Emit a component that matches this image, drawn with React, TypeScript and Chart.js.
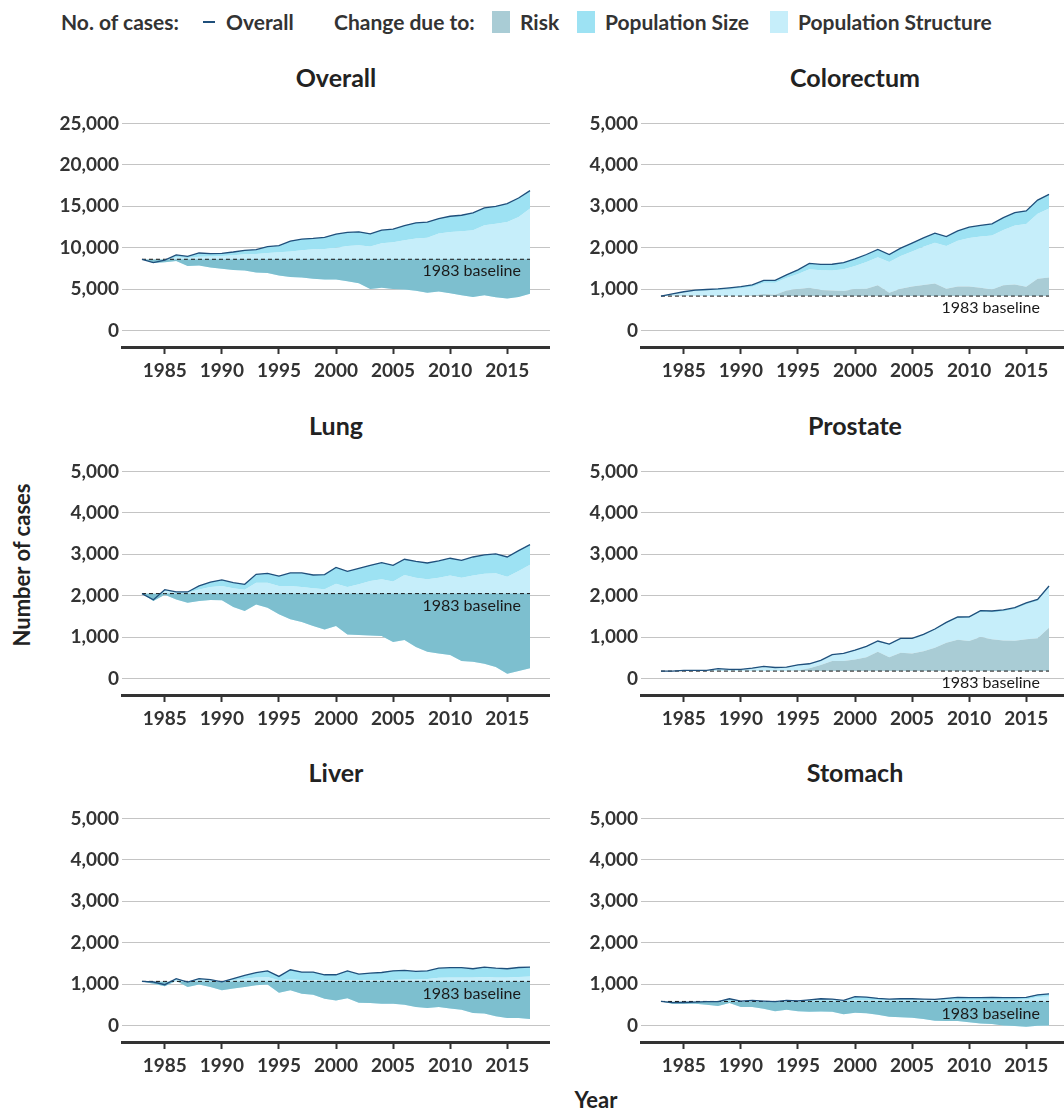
import React, { useEffect, useRef } from "react";
import { Chart, registerables } from "chart.js";

Chart.register(...registerables);

// ---------- data ----------
const years = [
  1983, 1984, 1985, 1986, 1987, 1988, 1989, 1990, 1991, 1992, 1993, 1994,
  1995, 1996, 1997, 1998, 1999, 2000, 2001, 2002, 2003, 2004, 2005, 2006,
  2007, 2008, 2009, 2010, 2011, 2012, 2013, 2014, 2015, 2016, 2017,
];
const xTickValues = [1985, 1990, 1995, 2000, 2005, 2010, 2015];
const yTicksOverall = [0, 5000, 10000, 15000, 20000, 25000];
const yTicksSite = [0, 1000, 2000, 3000, 4000, 5000];

// Overall
const overallTotal = [8600, 8200, 8500, 9120, 8960, 9360, 9280, 9320, 9480, 9680, 9760, 10120, 10240, 10800, 11040, 11120, 11240, 11640, 11840, 11920, 11680, 12120, 12240, 12680, 13000, 13080, 13520, 13800, 13920, 14200, 14800, 15000, 15320, 16000, 16900];
const overallStructure = [8600, 8250, 8500, 8850, 8750, 8900, 8950, 9000, 9100, 9200, 9250, 9350, 9450, 9550, 9700, 9800, 9850, 10000, 10200, 10300, 10150, 10550, 10650, 10900, 11100, 11200, 11700, 11900, 12000, 12100, 12700, 12900, 13100, 13700, 14750];
const overallRisk = [8600, 8150, 8250, 8400, 7800, 7850, 7600, 7450, 7300, 7250, 7000, 6950, 6650, 6450, 6400, 6250, 6150, 6150, 5950, 5700, 5000, 5150, 5000, 4950, 4800, 4550, 4700, 4500, 4250, 4050, 4250, 4000, 3850, 4050, 4450];

// Colorectum
const colorectumTotal = [830, 885, 935, 975, 990, 1005, 1030, 1060, 1100, 1210, 1210, 1345, 1465, 1620, 1595, 1600, 1640, 1730, 1835, 1960, 1835, 1990, 2110, 2235, 2350, 2270, 2405, 2495, 2540, 2575, 2725, 2845, 2890, 3150, 3290];
const colorectumStructure = [830, 875, 920, 955, 965, 975, 995, 1020, 1055, 1150, 1150, 1265, 1365, 1480, 1455, 1450, 1480, 1560, 1655, 1770, 1655, 1800, 1910, 2025, 2120, 2040, 2165, 2235, 2270, 2295, 2425, 2535, 2570, 2820, 2950];
const colorectumRisk = [830, 840, 845, 840, 835, 830, 830, 835, 845, 880, 860, 965, 1000, 1030, 980, 965, 955, 1000, 1010, 1090, 910, 1010, 1065, 1100, 1135, 1010, 1065, 1065, 1030, 990, 1090, 1110, 1055, 1250, 1280];

// Lung
const lungTotal = [2050, 1900, 2145, 2090, 2090, 2235, 2330, 2380, 2315, 2275, 2515, 2540, 2475, 2550, 2550, 2500, 2510, 2685, 2590, 2660, 2735, 2800, 2735, 2880, 2830, 2790, 2840, 2905, 2855, 2935, 2985, 3010, 2935, 3090, 3235];
const lungStructure = [2050, 1900, 2120, 2070, 2070, 2150, 2210, 2235, 2180, 2145, 2315, 2315, 2235, 2235, 2210, 2180, 2155, 2290, 2210, 2275, 2355, 2395, 2340, 2500, 2435, 2395, 2435, 2490, 2435, 2490, 2530, 2540, 2460, 2595, 2750];
const lungRisk = [2050, 1870, 2020, 1910, 1830, 1870, 1895, 1890, 1725, 1630, 1790, 1710, 1550, 1430, 1365, 1265, 1185, 1265, 1065, 1050, 1040, 1025, 880, 930, 760, 645, 605, 565, 420, 405, 355, 275, 115, 180, 245];

// Prostate
const prostateTotal = [178, 178, 195, 195, 195, 235, 220, 220, 250, 290, 265, 275, 330, 355, 435, 575, 605, 685, 775, 905, 830, 970, 970, 1065, 1195, 1355, 1485, 1490, 1640, 1630, 1655, 1710, 1825, 1910, 2235];
const prostateStructure = [178, 178, 195, 195, 195, 230, 215, 215, 245, 285, 260, 270, 320, 345, 425, 560, 590, 670, 755, 885, 810, 950, 950, 1040, 1170, 1325, 1455, 1460, 1605, 1595, 1620, 1670, 1785, 1870, 2215];
const prostateRisk = [178, 178, 178, 178, 178, 178, 178, 178, 178, 178, 178, 178, 195, 245, 325, 420, 420, 460, 515, 645, 510, 620, 600, 660, 740, 865, 935, 905, 1000, 945, 920, 910, 945, 970, 1225];

// Liver
const liverTotal = [1065, 1050, 985, 1130, 1050, 1130, 1105, 1055, 1130, 1210, 1275, 1320, 1185, 1345, 1290, 1290, 1225, 1225, 1320, 1240, 1265, 1280, 1320, 1330, 1305, 1320, 1385, 1395, 1395, 1370, 1410, 1385, 1370, 1400, 1410];
const liverStructure = [1065, 1040, 980, 1100, 1040, 1100, 1080, 1050, 1090, 1130, 1160, 1170, 1090, 1110, 1100, 1100, 1090, 1090, 1100, 1090, 1090, 1100, 1100, 1110, 1110, 1120, 1150, 1160, 1160, 1160, 1170, 1160, 1160, 1170, 1180];
const liverRisk = [1065, 1010, 945, 1075, 930, 990, 930, 850, 890, 930, 970, 990, 790, 850, 765, 740, 645, 605, 660, 550, 540, 525, 525, 500, 445, 420, 445, 410, 380, 300, 290, 225, 180, 180, 155];

// Stomach
const stomachTotal = [580, 550, 555, 565, 575, 575, 645, 590, 605, 590, 575, 605, 595, 620, 645, 635, 605, 695, 685, 655, 635, 645, 645, 635, 630, 655, 680, 670, 670, 680, 670, 670, 680, 740, 765];
const stomachStructure = [580, 550, 555, 560, 565, 565, 590, 580, 585, 580, 570, 585, 585, 590, 595, 595, 590, 600, 600, 600, 600, 600, 600, 600, 600, 605, 610, 610, 610, 615, 615, 620, 630, 690, 700];
const stomachRisk = [580, 525, 525, 525, 500, 470, 540, 445, 445, 405, 345, 380, 345, 330, 340, 330, 270, 305, 295, 260, 210, 200, 185, 155, 115, 105, 105, 75, 50, 35, 0, -15, -30, -10, 0];

// ---------- style ----------
const FONT = "Lato, 'Noto Sans', sans-serif";
const C_STRUCT = "#c6eefa";
const C_SIZE = "#9de2f3";
const C_RISK = "#a9ccd5";
const C_RISK_NEG = "#7dbfcf";
const C_LINE = "#1f4f7b";
const C_TEXT = "#333333";
const C_GRID = "#c4c4c4";

type PanelProps = {
  title: string;
  total: number[];
  structure: number[];
  risk: number[];
  yTicks: number[];
  left: number;
  top: number;
};

const CANVAS_W = 510;
const CANVAS_H = 291;
const Y_AXIS_W = 82;
const PAD_TOP = 11;
const X_AXIS_H = 40;

function Panel({ title, total, structure, risk, yTicks, left, top }: PanelProps) {
  const ref = useRef<HTMLCanvasElement | null>(null);

  useEffect(() => {
    if (!ref.current) return;
    const base = total[0];
    const pts = (arr: number[]) => years.map((yr, i) => ({ x: yr, y: arr[i] }));
    const step = yTicks[1] - yTicks[0];
    const yMin = yTicks[0] - 0.4 * step;
    const yMax = yTicks[yTicks.length - 1] + 0.4 * step;

    const baselineLabel = {
      id: "baselineLabel",
      afterDatasetsDraw(chart: any) {
        const { ctx, scales } = chart;
        ctx.save();
        ctx.font = `16px ${FONT}`;
        ctx.fillStyle = "#1a1a1a";
        ctx.textAlign = "right";
        ctx.textBaseline = "middle";
        const x = scales.x.getPixelForValue(2016.2);
        const y = scales.y.getPixelForValue(base) + 12;
        ctx.fillText("1983 baseline", x, y);
        ctx.restore();
      },
    };

    const chart = new Chart(ref.current, {
      type: "line",
      data: {
        datasets: [
          {
            label: "Population Structure",
            data: pts(structure),
            fill: { target: 1 },
            backgroundColor: C_STRUCT,
            borderColor: "rgba(0,0,0,0)",
            borderWidth: 0,
            pointRadius: 0,
            tension: 0,
            order: 5,
          },
          {
            label: "Risk",
            data: pts(risk),
            fill: { target: 2, above: C_RISK, below: C_RISK_NEG },
            backgroundColor: C_RISK,
            borderColor: "rgba(0,0,0,0)",
            borderWidth: 0,
            pointRadius: 0,
            tension: 0,
            order: 3,
          },
          {
            label: "1983 baseline",
            data: pts(years.map(() => base)),
            fill: false,
            borderColor: "#111111",
            borderWidth: 1,
            borderDash: [4, 3],
            pointRadius: 0,
            order: 1,
          },
          {
            label: "Overall",
            data: pts(total),
            fill: { target: 0 },
            backgroundColor: C_SIZE,
            borderColor: C_LINE,
            borderWidth: 1.3,
            pointRadius: 0,
            tension: 0,
            order: 0,
          },
        ],
      },
      options: {
        responsive: false,
        animation: false,
        devicePixelRatio: 1,
        layout: { padding: { top: PAD_TOP, left: 0, right: 0, bottom: 0 } },
        plugins: {
          legend: { display: false },
          tooltip: { enabled: false },
          filler: { drawTime: "beforeDatasetsDraw" },
        },
        scales: {
          x: {
            type: "linear",
            min: 1981.25,
            max: 2018.75,
            afterBuildTicks: (s: any) => {
              s.ticks = xTickValues.map((v) => ({ value: v }));
            },
            afterFit: (s: any) => {
              s.height = X_AXIS_H;
              s.paddingLeft = 0;
              s.paddingRight = 0;
            },
            grid: {
              display: true,
              drawOnChartArea: false,
              drawTicks: true,
              tickLength: 7,
              tickWidth: 2,
              tickColor: "#333333",
              color: "#333333",
            },
            border: { display: true, color: "#333333", width: 3 },
            ticks: {
              autoSkip: false,
              maxRotation: 0,
              padding: 5,
              color: C_TEXT,
              font: { family: FONT, size: 19, weight: "bold" },
              callback: (v: any) => String(v),
            },
          },
          y: {
            type: "linear",
            min: yMin,
            max: yMax,
            afterBuildTicks: (s: any) => {
              s.ticks = yTicks.map((v) => ({ value: v }));
            },
            afterFit: (s: any) => {
              s.width = Y_AXIS_W;
              s.paddingTop = 0;
              s.paddingBottom = 0;
            },
            grid: { color: C_GRID, lineWidth: 1, drawTicks: false },
            border: { display: false },
            ticks: {
              autoSkip: false,
              padding: 3,
              color: C_TEXT,
              font: { family: FONT, size: 19, weight: "bold" },
              callback: (v: any) => Number(v).toLocaleString("en-US"),
            },
          },
        },
      } as any,
      plugins: [baselineLabel],
    });
    return () => chart.destroy();
  }, []);

  const areaCenter = left + Y_AXIS_W + (CANVAS_W - Y_AXIS_W) / 2;

  return (
    <>
      <div
        style={{
          position: "absolute",
          left: areaCenter - 150,
          top: top - 34,
          width: 300,
          height: 30,
          lineHeight: "30px",
          textAlign: "center",
          fontWeight: 700,
          fontSize: 25,
          color: "#222",
          whiteSpace: "nowrap",
        }}
      >
        {title}
      </div>
      <canvas
        ref={ref}
        width={CANVAS_W}
        height={CANVAS_H}
        style={{ position: "absolute", left, top, width: CANVAS_W, height: CANVAS_H }}
      />
    </>
  );
}

function LegendText({ text, left }: { text: string; left: number }) {
  return (
    <div
      style={{
        position: "absolute",
        left,
        top: 7,
        height: 30,
        lineHeight: "30px",
        fontSize: 21,
        fontWeight: 700,
        color: "#333",
        whiteSpace: "nowrap",
      }}
    >
      {text}
    </div>
  );
}

function Swatch({ left, color }: { left: number; color: string }) {
  return (
    <div
      style={{ position: "absolute", left, top: 11, width: 18, height: 22, background: color }}
    />
  );
}

export default function App() {
  const colL = 40;
  const colR = 559;
  const rows = [96, 444, 791];
  return (
    <div
      style={{
        position: "fixed",
        left: 0,
        top: 0,
        width: 1064,
        height: 1111,
        overflow: "hidden",
        background: "#ffffff",
        fontFamily: FONT,
      }}
    >
      {/* legend */}
      <LegendText text="No. of cases:" left={61} />
      <div style={{ position: "absolute", left: 203, top: 21, width: 12, height: 2, background: C_LINE }} />
      <LegendText text="Overall" left={226} />
      <LegendText text="Change due to:" left={334} />
      <Swatch left={492} color={C_RISK} />
      <LegendText text="Risk" left={520} />
      <Swatch left={577} color={C_SIZE} />
      <LegendText text="Population Size" left={605} />
      <Swatch left={770} color={C_STRUCT} />
      <LegendText text="Population Structure" left={798} />

      <Panel title="Overall" total={overallTotal} structure={overallStructure} risk={overallRisk} yTicks={yTicksOverall} left={colL} top={rows[0]} />
      <Panel title="Colorectum" total={colorectumTotal} structure={colorectumStructure} risk={colorectumRisk} yTicks={yTicksSite} left={colR} top={rows[0]} />
      <Panel title="Lung" total={lungTotal} structure={lungStructure} risk={lungRisk} yTicks={yTicksSite} left={colL} top={rows[1]} />
      <Panel title="Prostate" total={prostateTotal} structure={prostateStructure} risk={prostateRisk} yTicks={yTicksSite} left={colR} top={rows[1]} />
      <Panel title="Liver" total={liverTotal} structure={liverStructure} risk={liverRisk} yTicks={yTicksSite} left={colL} top={rows[2]} />
      <Panel title="Stomach" total={stomachTotal} structure={stomachStructure} risk={stomachRisk} yTicks={yTicksSite} left={colR} top={rows[2]} />

      {/* axis titles */}
      <div
        style={{
          position: "absolute",
          left: 22 - 110,
          top: 565 - 15,
          width: 220,
          height: 30,
          lineHeight: "30px",
          textAlign: "center",
          fontSize: 22,
          fontWeight: 700,
          color: "#222",
          transform: "rotate(-90deg)",
          whiteSpace: "nowrap",
        }}
      >
        Number of cases
      </div>
      <div
        style={{
          position: "absolute",
          left: 596 - 60,
          top: 1100 - 15,
          width: 120,
          height: 30,
          lineHeight: "30px",
          textAlign: "center",
          fontSize: 22,
          fontWeight: 700,
          color: "#222",
          whiteSpace: "nowrap",
        }}
      >
        Year
      </div>
    </div>
  );
}
